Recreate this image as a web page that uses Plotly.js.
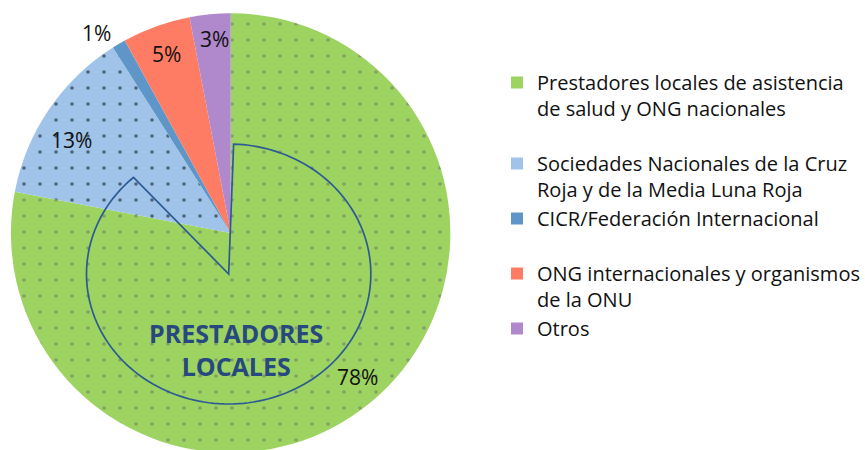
<!DOCTYPE html>
<html>
<head>
<meta charset="utf-8">
<script src="https://cdn.plot.ly/plotly-3.0.1.min.js"></script>
<style>
html,body{margin:0;padding:0;background:#fff;overflow:hidden;}
#chart{width:865px;height:458px;}
</style>
</head>
<body>
<div id="chart"></div>
<script>
// ---- data ----
const categories = [
  "Prestadores locales de asistencia<br>de salud y ONG nacionales<br> ",
  "Sociedades Nacionales de la Cruz<br>Roja y de la Media Luna Roja",
  "CICR/Federación Internacional<br> ",
  "ONG internacionales y organismos<br>de la ONU",
  "Otros"
];
const shares = [78, 13, 1, 5, 3];
const centerLabel = "PRESTADORES<br>LOCALES";

// ---- style ----
const W = 865, H = 458;
const colors = ["#9dd461", "#9fc3e9", "#5f96c8", "#ff7c64", "#b088cc"];
const patShapes = [".", ".", "", "", ""];
const patFg = ["#686868", "#000000", "#000", "#000", "#000"];
const labelRadius = [0.87, 0.84, 1.09, 0.86, 0.88];
const labelAngleShift = [-1.8, -4, -3.4, 0, 0.7];
const FONT = "Open Sans, sans-serif";

const cx = 232, cy = 233, R = 221;
const px = x => x / W;
const py = y => 1 - y / H;

const trace = {
  type: "pie",
  labels: categories,
  values: shares,
  sort: false,
  direction: "clockwise",
  rotation: 0,
  textinfo: "none",
  hoverinfo: "label+percent",
  domain: {x: [px(cx - R), px(cx + R)], y: [py(cy + R), py(cy - R)]},
  marker: {
    colors: colors,
    line: {width: 0, color: "#ffffff"},
    pattern: {
      shape: patShapes,
      fgcolor: patFg,
      bgcolor: colors,
      size: 16,
      solidity: 0.04,
      fillmode: "overlay"
    }
  }
};

// percentage labels placed at each slice
const total = shares.reduce((a, b) => a + b, 0);
const annotations = [];
let cum = 0;
shares.forEach((v, i) => {
  const mid = ((cum + v / 2) / total * 360 + labelAngleShift[i]) * Math.PI / 180;
  cum += v;
  const r = labelRadius[i] * R;
  annotations.push({
    xref: "paper", yref: "paper",
    x: px(cx + r * Math.sin(mid)), y: py(cy - r * Math.cos(mid)),
    text: Math.round(v / total * 100) + "%",
    showarrow: false,
    font: {family: FONT, size: 21, color: "#111111"},
    xanchor: "center", yanchor: "middle"
  });
});
annotations.push({
  xref: "paper", yref: "paper",
  x: px(237), y: py(349),
  text: "<b>" + centerLabel + "</b>",
  showarrow: false,
  font: {family: FONT, size: 25, color: "#27497f"},
  xanchor: "center", yanchor: "middle"
});

// outlined elliptical sector decoration
const ex = 230, ey = 274, rx = 143, ry = 130, a0 = 2, a1 = 318;
let path = "M" + px(ex) + "," + py(ey);
for (let a = a0; a <= a1; a += 2) {
  const t = a * Math.PI / 180;
  path += " L" + px(ex + rx * Math.sin(t)) + "," + py(ey - ry * Math.cos(t));
}
path += " Z";

const layout = {
  width: W, height: H,
  margin: {l: 0, r: 0, t: 0, b: 0},
  paper_bgcolor: "#ffffff",
  plot_bgcolor: "#ffffff",
  showlegend: true,
  legend: {
    x: 0.578, xanchor: "left",
    y: py(63), yanchor: "top",
    valign: "top",
    font: {family: FONT, size: 20, color: "#111111"},
    bgcolor: "rgba(0,0,0,0)",
    itemclick: false
  },
  annotations: annotations,
  shapes: [{
    type: "path", xref: "paper", yref: "paper",
    path: path,
    line: {color: "#2e5a94", width: 1.7},
    fillcolor: "rgba(0,0,0,0)",
    layer: "above"
  }]
};

Plotly.newPlot("chart", [trace], layout, {displayModeBar: false, staticPlot: true});
</script>
</body>
</html>
